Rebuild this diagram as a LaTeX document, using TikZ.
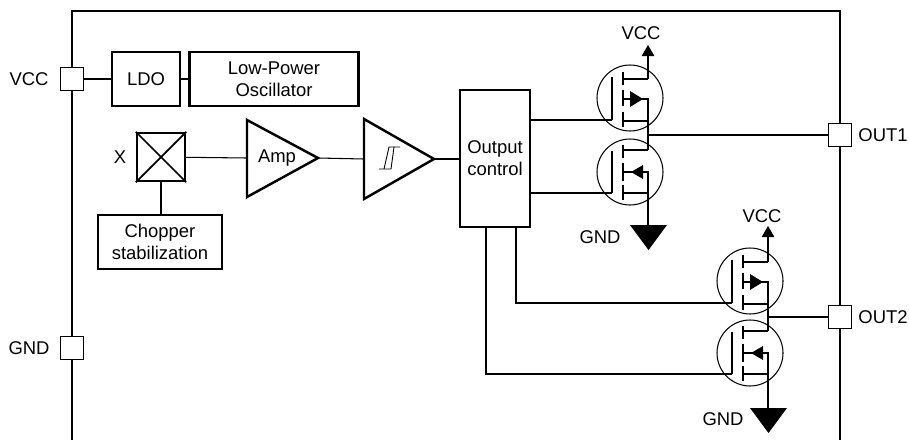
\documentclass[tikz,border=0pt]{standalone}
\usepackage{fontspec}
\setmainfont{Liberation Sans}
\usetikzlibrary{arrows.meta}

\tikzset{
    wire/.style={line width=0.6pt},
    frameline/.style={line width=1.4pt},
    label/.style={font=\fontsize{10.5}{12.5}\selectfont, align=center, inner sep=0pt},
    block/.style={label, draw, line width=1.4pt, inner sep=0pt},
    pin/.style={draw, fill=white, line width=0.6pt, minimum width=0.47cm, minimum height=0.47cm, inner sep=0pt},
    % transistor with its body diode arrow pointing right
    mosfethi/.pic={
        \draw[wire] (0,0) circle (33);
        \draw[wire] (-18,-21) -- (-18,22) coordinate (-gate);
        \draw[wire] (-7,-26) -- (-7,-13) (-7,-8) -- (-7,8) (-7,14) -- (-7,29);
        \draw[wire] (-7,-19) -- (18,-19) coordinate (-drain);
        \draw[wire] (-7,1) -- (18,1) coordinate (-source) -- (18,23) -- (-7,23);
        \coordinate (-low) at (18,23);
        \fill (0,-7) -- (13,1) -- (0,9) -- cycle;
    },
    % transistor with its body diode arrow pointing left
    mosfetlo/.pic={
        \draw[wire] (0,0) circle (33);
        \draw[wire] (-18,-21) -- (-18,21) coordinate (-gate);
        \draw[wire] (-7,-27) -- (-7,-14) (-7,-9) -- (-7,9) (-7,13) -- (-7,28);
        \draw[wire] (-7,-22) -- (18,-22) coordinate (-drain);
        \draw[wire] (-7,0) -- (18,0) coordinate (-source) -- (18,21) -- (-7,21);
        \coordinate (-low) at (18,21);
        \fill (13,-7) -- (1,0) -- (13,7) -- cycle;
    }
}

\begin{document}
\begin{tikzpicture}[x=0.02cm,y=-0.02cm]
    \useasboundingbox (0,0) rectangle (909,440);

    % Draw outer frame
    \draw[frameline] (72,440) -- (72,11) -- (840,11) -- (840,440);

    % Place pins
    \node[pin] (vccpin) at (72,79) {};
    \node[pin] (gndpin) at (72,348) {};
    \node[pin] (outa) at (840,135) {};
    \node[pin] (outb) at (840,317) {};
    \node[label] (vcclabel) at (29,79) {VCC};
    \node[label] (gndlabel) at (29,348) {GND};
    \node[label] (outalabel) at (883,135) {OUT1};
    \node[label] (outblabel) at (883,317) {OUT2};

    % Place blocks
    \node[block, minimum width=1.36cm, minimum height=1.08cm] (ldo) at (146,79) {LDO};
    \node[block, minimum width=3.38cm, minimum height=1.08cm] (osc) at (274,79) {Low-Power\\Oscillator};
    \node[block, minimum width=0.96cm, minimum height=0.96cm] (hall) at (161,157) {};
    \node[label] (xlabel) at (120,157) {X};
    \node[block, minimum width=2.48cm, minimum height=1.08cm] (chopper) at (160,242) {Chopper\\stabilization};
    \node[block, minimum width=1.4cm, minimum height=2.74cm] (ctrl) at (495,158.5) {Output\\control};

    % Draw cross in hall element
    \draw[line width=1pt] (hall.north west) -- (hall.south east);
    \draw[line width=1pt] (hall.north east) -- (hall.south west);

    % Define triangle corners
    \coordinate (AmpIn) at (247,158);
    \coordinate (AmpOut) at (318,158);
    \coordinate (TrigIn) at (364,159);
    \coordinate (TrigOut) at (434,159);

    % Draw amplifier and trigger
    \draw[frameline, line join=miter] (247,120) -- (AmpOut) -- (247,197) -- cycle;
    \draw[frameline, line join=miter] (364,119) -- (TrigOut) -- (364,199) -- cycle;
    \node[label] (amp) at (277,158) {Amp};

    % Draw hysteresis symbol
    \draw[line width=0.5pt] (379,169) -- (391,169) -- (394,147) -- (400,147);
    \draw[line width=0.5pt] (384,169) -- (389,147) -- (394,147);

    % Draw power transistors
    \pic (qa) at (630,98) {mosfethi};
    \pic (qb) at (630,172) {mosfetlo};
    \pic (qc) at (750,281) {mosfethi};
    \pic (qd) at (750,353) {mosfetlo};

    % Define rail points
    \coordinate (VccA) at (648,45);
    \coordinate (VccB) at (768,226);
    \coordinate (GndA) at (648,225);
    \coordinate (GndB) at (768,408);
    \coordinate (MidB) at (768,317);

    % Draw signal path
    \draw[wire] (vccpin) -- (ldo);
    \draw[wire] (ldo) -- (osc);
    \draw[wire] (hall) -- (AmpIn);
    \draw[wire] (hall) -- (chopper.north -| hall);
    \draw[wire] (AmpOut) -- (TrigIn);
    \draw[wire] (TrigOut) -- (ctrl.west |- TrigOut);

    % Draw gate lines
    \draw[wire] (ctrl.east |- qa-gate) -- (qa-gate);
    \draw[wire] (ctrl.east |- qb-gate) -- (qb-gate);
    \draw[wire] (516,227) |- (qc-gate);
    \draw[wire] (486,227) |- (qd-gate);

    % Draw supply arrows
    \draw[wire, -{Triangle[length=0.22cm,width=0.25cm]}] (qa-drain) -- (VccA);
    \draw[wire, -{Triangle[length=0.22cm,width=0.25cm]}] (qc-drain) -- (VccB);
    \node[label] (vcca) at (641,33) {VCC};
    \node[label] (vccb) at (762,216) {VCC};

    % Draw half bridge links and outputs
    \draw[wire] (qa-low) -- (qb-drain);
    \draw[wire] (qc-low) -- (qd-drain);
    \draw[wire] (qa-low |- outa) -- (outa);
    \draw[wire] (MidB) -- (outb);

    % Draw ground symbols
    \draw[wire] (qb-low) -- (GndA);
    \draw[wire] (qd-low) -- (GndB);
    \fill (630,225) -- (667,225) -- (648.5,250) -- cycle;
    \fill (750,408) -- (787,408) -- (768.5,433) -- cycle;
    \node[label] (gnda) at (600,237) {GND};
    \node[label] (gndb) at (723,419) {GND};
\end{tikzpicture}
\end{document}
